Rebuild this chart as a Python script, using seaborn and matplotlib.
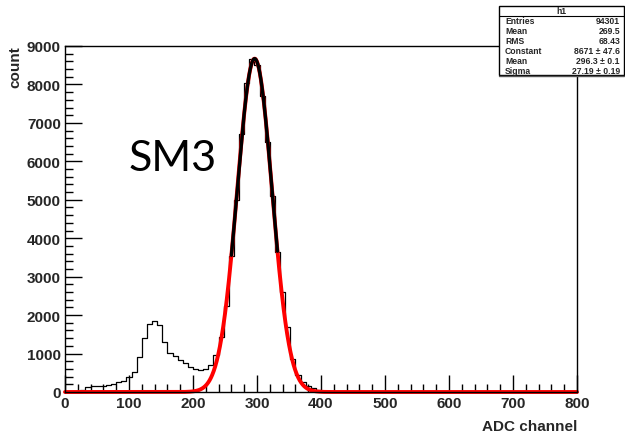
import numpy as np
import pandas as pd
import matplotlib
matplotlib.use("Agg")
import matplotlib.pyplot as plt
from matplotlib.ticker import MultipleLocator
from matplotlib.patches import Rectangle
import seaborn as sns

# ---------------- data ----------------
bin_width = 8
x_min, x_max = 0, 800
counts = [
    0, 0, 10, 50, 140, 150, 155, 165, 190, 205,
    250, 290, 390, 520, 910, 1410, 1775, 1835, 1745, 1310,
    1020, 935, 830, 760, 660, 605, 575, 600, 700, 960,
    1420, 2250, 3550, 5000, 6700, 8050, 8650, 8500, 7700, 6500,
    5100, 3650, 2600, 1700, 850, 450, 260, 155, 95, 50,
] + [0] * 50

fit_constant = 8671
fit_mean = 296.3
fit_sigma = 27.19
fit_range = (260, 332)

stats_title = "h1"
stats_labels = ["Entries", "Mean", "RMS", "Constant", "Mean", "Sigma"]
stats_values = ["94301", "269.5", "68.43", "8671 \u00b1 47.6", "296.3 \u00b1 0.1", "27.19 \u00b1 0.19"]

x_label = "ADC channel"
y_label = "count"
tag = "SM3"

# ---------------- figure ----------------
sns.set_style("ticks")
plt.rcParams["font.family"] = ["Liberation Sans", "DejaVu Sans"]

fig = plt.figure(figsize=(6.25, 4.35), dpi=100)
W, H = 625, 435
ax_l, ax_r, ax_t, ax_b = 65, 577, 47, 393
ax = fig.add_axes([ax_l / W, 1 - ax_b / H, (ax_r - ax_l) / W, (ax_b - ax_t) / H])

edges = np.arange(x_min, x_max + bin_width, bin_width)
centers = edges[:-1] + bin_width / 2
df = pd.DataFrame({"adc": centers, "n": np.asarray(counts, dtype=float)})
sns.histplot(data=df, x="adc", weights="n", binwidth=bin_width, binrange=(x_min, x_max),
             element="step", fill=False, color="black", linewidth=0.9, ax=ax)

xf = np.linspace(x_min, x_max, 2001)
yf = fit_constant * np.exp(-0.5 * ((xf - fit_mean) / fit_sigma) ** 2)
sns.lineplot(x=xf, y=yf, color="red", linewidth=2.8, estimator=None, ax=ax)
for ln in ax.lines:
    ln.set_clip_on(False)
xb = np.linspace(fit_range[0], fit_range[1], 400)
yb = fit_constant * np.exp(-0.5 * ((xb - fit_mean) / fit_sigma) ** 2)
sns.lineplot(x=xb, y=yb, color="black", linewidth=2.4, estimator=None, ax=ax)

ax.set_xlim(x_min, x_max)
ax.set_ylim(0, 9000)
ax.set_xticks(range(0, 801, 100))
ax.set_yticks(range(0, 9001, 1000))
ax.xaxis.set_minor_locator(MultipleLocator(20))
ax.yaxis.set_minor_locator(MultipleLocator(200))
ax.tick_params(which="major", direction="in", length=12, width=1, color="black",
               labelsize=11, pad=3, top=False, right=False)
ax.tick_params(which="minor", direction="in", length=6, width=1, color="black",
               top=False, right=False)
for lab in ax.get_xticklabels() + ax.get_yticklabels():
    lab.set_fontweight("bold")
ax.set_xlabel("")
ax.set_ylabel("")
for s in ax.spines.values():
    s.set_linewidth(1)
    s.set_color("black")

fig.text(ax_r / W, 1 - 427 / H, x_label, ha="right", va="center",
         fontsize=11, fontweight="bold")
fig.text(15 / W, 1 - 46 / H, y_label, ha="center", va="top", rotation=90,
         fontsize=11, fontweight="bold")
ax.text(0.125, 0.675, tag, transform=ax.transAxes, fontsize=31,
        fontfamily=["Lato", "DejaVu Sans"], va="center", ha="left", color="black")

# ---------------- stats box ----------------
bx0, bx1, by0, by1 = 499, 624, 7, 76
hdr_h = 10
box = Rectangle((bx0 / W, 1 - by1 / H), (bx1 - bx0) / W, (by1 - by0) / H,
                transform=fig.transFigure, facecolor="white", edgecolor="black",
                linewidth=1, zorder=10)
fig.add_artist(box)
fig.add_artist(plt.Line2D([bx0 / W, bx1 / W], [1 - (by0 + hdr_h) / H] * 2,
                          transform=fig.transFigure, color="black", linewidth=0.8, zorder=11))
fig.add_artist(plt.Line2D([bx0 / W, bx1 / W], [1 - (by1 + 1) / H] * 2,
                          transform=fig.transFigure, color="#555555", linewidth=1.0, zorder=11))
fig.text((bx0 + bx1) / 2 / W, 1 - (by0 + hdr_h / 2) / H, stats_title, ha="center",
         va="center", fontsize=6.2, fontweight="bold", zorder=12)
row_h = (by1 - by0 - hdr_h) / len(stats_labels)
for i, (lab, val) in enumerate(zip(stats_labels, stats_values)):
    yc = 1 - (by0 + hdr_h + row_h * (i + 0.5)) / H
    fig.text((bx0 + 6) / W, yc, lab, ha="left", va="center", fontsize=6.2,
             fontweight="bold", zorder=12)
    fig.text((bx1 - 4) / W, yc, val, ha="right", va="center", fontsize=6.2,
             fontweight="bold", zorder=12)

fig.savefig("out.png", dpi=100)
